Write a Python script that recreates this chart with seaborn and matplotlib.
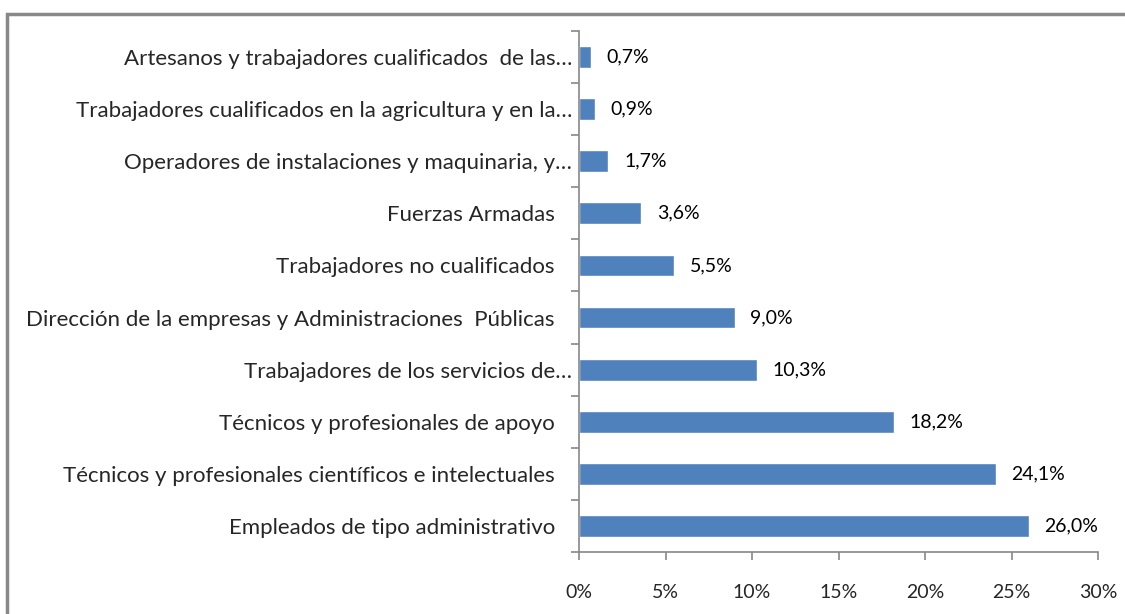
import matplotlib
matplotlib.use('Agg')
import matplotlib.pyplot as plt
import pandas as pd
import seaborn as sns
from matplotlib.patches import Rectangle

ocupaciones = [
    "Artesanos y trabajadores cualificados  de las…",
    "Trabajadores cualificados en la agricultura y en la…",
    "Operadores de instalaciones y maquinaria, y…",
    "Fuerzas Armadas   ",
    "Trabajadores no cualificados   ",
    "Dirección de la empresas y Administraciones  Públicas   ",
    "Trabajadores de los servicios de…",
    "Técnicos y profesionales de apoyo   ",
    "Técnicos y profesionales científicos e intelectuales   ",
    "Empleados de tipo administrativo   ",
]
porcentajes = [0.7, 0.9, 1.7, 3.6, 5.5, 9.0, 10.3, 18.2, 24.1, 26.0]
xticks = [0, 5, 10, 15, 20, 25, 30]

df = pd.DataFrame({'ocupacion': ocupaciones, 'pct': porcentajes})

sns.set_style('white')
plt.rcParams['font.family'] = ['Lato', 'DejaVu Sans']

fig = plt.figure(figsize=(11.25, 6.14), dpi=100)
ax = fig.add_axes([0.5147, 0.101, 0.4613, 0.8485])

sns.barplot(data=df, x='pct', y='ocupacion', color='#4F81BD', width=0.42,
            saturation=1, ax=ax)

# value labels
for i, v in enumerate(porcentajes):
    ax.text(v + 0.9, i, f"{v:.1f}%".replace('.', ','), va='center', ha='left',
            fontsize=14, color='black')

ax.set_xlim(0, 30)
ax.set_ylim(9.5, -0.5)
ax.set_xticks(xticks)
ax.set_xticklabels([f"{t}%" for t in xticks], fontsize=14)
ax.set_yticks(range(len(ocupaciones)))
ax.set_yticklabels(ocupaciones, fontsize=16)
ax.set_xlabel('')
ax.set_ylabel('')

for s in ['top', 'right']:
    ax.spines[s].set_visible(False)
for s in ['left', 'bottom']:
    ax.spines[s].set_color('#888888')
    ax.spines[s].set_linewidth(1.2)

# tick marks between categories on y axis
ax.set_yticks([i + 0.5 for i in range(-1, len(ocupaciones))], minor=True)
ax.tick_params(axis='y', which='major', length=0, pad=5)
ax.tick_params(axis='y', which='minor', length=6, color='#888888', width=1.2,
               direction='out', left=True)
ax.tick_params(axis='x', which='major', length=6, color='#888888', width=1.2,
               direction='out', bottom=True, pad=17)

# outer chart frame
fig.patches.append(Rectangle((0.0065, -0.05), 1.05, 1.027,
                             transform=fig.transFigure, fill=False,
                             edgecolor='#888888', linewidth=2.5))

fig.savefig('out.png', dpi=100)
plt.close(fig)
